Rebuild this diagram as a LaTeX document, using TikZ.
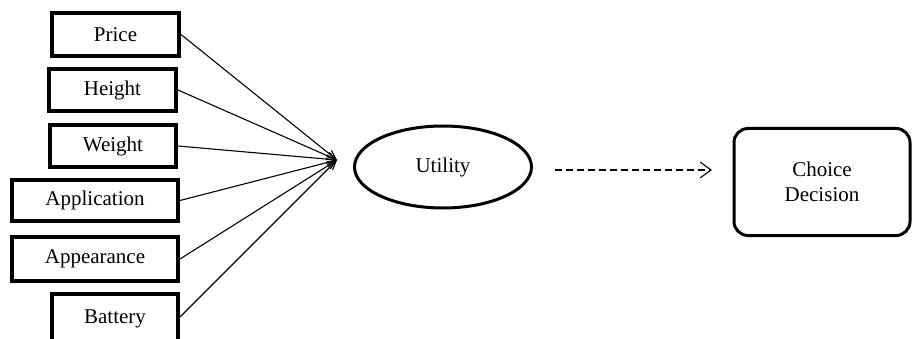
\documentclass[tikz,border=0pt]{standalone}
\usepackage{fontspec}
\setmainfont{Liberation Serif}
\usetikzlibrary{shapes.geometric,arrows.meta}
\begin{document}
\begin{tikzpicture}[x=1pt,y=-1pt,
  attr/.style={draw,line width=4pt,rectangle,inner sep=0pt,font=\fontsize{21}{25}\selectfont},
  link/.style={line width=1.1pt,-{Straight Barb[length=9pt,width=8pt]}},
  txt/.style={font=\fontsize{21}{25}\selectfont}]
\useasboundingbox (0,0) rectangle (915,339);
\node[attr,minimum width=127pt,minimum height=43pt] (price) at (115.5,34.5) {Price};
\node[attr,minimum width=127pt,minimum height=42pt] (height) at (112.5,90) {Height};
\node[attr,minimum width=126pt,minimum height=42pt] (weight) at (113,146) {Weight};
\node[attr,minimum width=166pt,minimum height=41pt] (app) at (95,200.5) {Application};
\node[attr,minimum width=166pt,minimum height=44pt] (appear) at (95,259) {Appearance};
\node[attr,minimum width=126pt,minimum height=50pt] (battery) at (115,319) {Battery};
\coordinate (conv) at (337,160);
\foreach \n in {price,height,weight,app,appear}
  \draw[link] (\n.east) -- (conv);
\draw[link] ([yshift=2pt]battery.east) -- (conv);
\node[draw,ellipse,line width=3pt,minimum width=177pt,minimum height=82pt,txt] (utility) at (443,167) {Utility};
\node[draw,rounded corners=14pt,line width=3pt,minimum width=176pt,minimum height=107pt,align=center,txt] (choice) at (822,182) {Choice\\Decision};
\coordinate (ds) at (555,170);
\coordinate (de) at (712,170);
\draw[line width=1.1pt,dash pattern=on 7pt off 4pt,-{Straight Barb[length=11pt,width=16pt]}] (ds) -- (de);
\end{tikzpicture}
\end{document}
